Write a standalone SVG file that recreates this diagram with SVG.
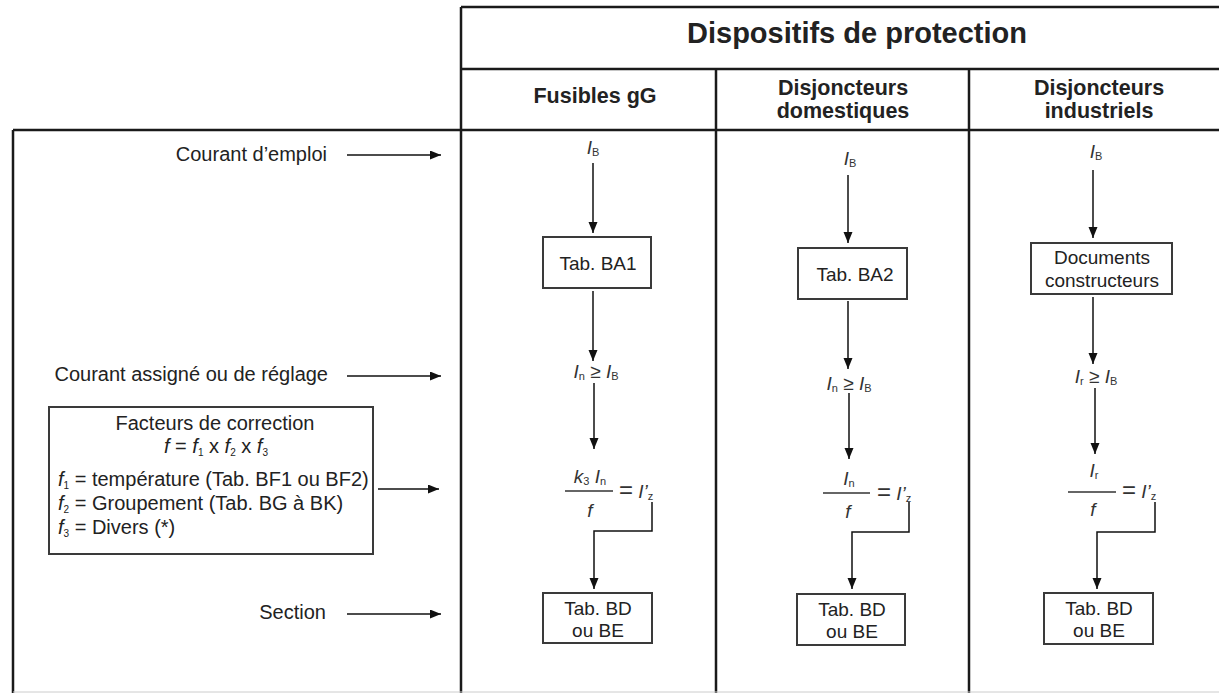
<svg xmlns="http://www.w3.org/2000/svg" width="1219" height="693" viewBox="0 0 1219 693">
<style>
text{font-family:"Liberation Sans",Arial,sans-serif;fill:#222}
.hd{font-size:29px;font-weight:bold;text-anchor:middle}
.ch{font-size:21.5px;font-weight:bold;text-anchor:middle}
.lb{font-size:20px;text-anchor:end}
.fx{font-size:20px}
.bx{font-size:19px;text-anchor:middle}
.m{font-size:19px;fill:#333;text-anchor:middle}
.e{font-size:19px;fill:#333}
.i{font-style:italic}
.s{font-size:11px}
.tbl{stroke:#1a1a1a;stroke-width:2.5;fill:none}
.box{stroke:#3a3a3a;stroke-width:2;fill:#fff}
.c{stroke:#111;stroke-width:1.5;fill:none}
.a{marker-end:url(#ah)}
.bar{stroke:#333;stroke-width:1.5}
</style>
<defs>
<marker id="ah" markerUnits="userSpaceOnUse" markerWidth="12" markerHeight="10" refX="11" refY="4.5" orient="auto">
<path d="M0,0 L11,4.5 L0,9 z" fill="#111"/>
</marker>
</defs>
<rect width="1219" height="693" fill="#fff"/>
<g id="table">
<path class="tbl" d="M461,7 H1225 M461,69 H1225 M13,130 H1225 M461,7 V693 M716,69 V693 M969,69 V693 M13,130 V693"/>
<path d="M13,692 H1219" stroke="#ccc" stroke-width="1"/>
<text class="hd" x="857" y="43">Dispositifs de protection</text>
<text class="ch" x="595" y="103">Fusibles gG</text>
<text class="ch" x="843" y="95">Disjoncteurs</text>
<text class="ch" x="843" y="118">domestiques</text>
<text class="ch" x="1099" y="95">Disjoncteurs</text>
<text class="ch" x="1099" y="118">industriels</text>
</g>
<g id="labels">
<text class="lb" x="327" y="161">Courant d’emploi</text>
<text class="lb" x="328" y="381">Courant assigné ou de réglage</text>
<text class="lb" x="326" y="619">Section</text>
</g>
<g id="facteurs">
<rect class="box" x="49" y="407" width="324" height="147"/>
<text class="fx" x="215" y="430" text-anchor="middle">Facteurs de correction</text>
<text class="fx" x="216" y="453" text-anchor="middle"><tspan class="i">f</tspan> = <tspan class="i">f</tspan><tspan font-size="10" dy="3">1</tspan><tspan dy="-3"> x </tspan><tspan class="i">f</tspan><tspan font-size="10" dy="3">2</tspan><tspan dy="-3"> x </tspan><tspan class="i">f</tspan><tspan font-size="10" dy="3">3</tspan></text>
<text class="fx" x="58" y="486"><tspan class="i">f</tspan><tspan font-size="10" dy="3">1</tspan><tspan dy="-3"> = température (Tab. BF1 ou BF2)</tspan></text>
<text class="fx" x="58" y="510"><tspan class="i">f</tspan><tspan font-size="10" dy="3">2</tspan><tspan dy="-3"> = Groupement (Tab. BG à BK)</tspan></text>
<text class="fx" x="58" y="534"><tspan class="i">f</tspan><tspan font-size="10" dy="3">3</tspan><tspan dy="-3"> = Divers (*)</tspan></text>
</g>
<g id="col1">
<text class="m" x="593" y="154"><tspan class="i">I</tspan><tspan class="s" dy="2">B</tspan></text>
<g id="ba1"><rect class="box" x="543" y="237" width="108" height="51"/><text class="bx" x="598" y="270">Tab. BA1</text></g>
<text class="m" x="596" y="378"><tspan class="i">I</tspan><tspan class="s" dy="2">n</tspan><tspan dy="-2"> ≥ </tspan><tspan class="i">I</tspan><tspan class="s" dy="2">B</tspan></text>
<text class="m" x="590" y="483"><tspan class="i">k</tspan><tspan class="s" dy="2">3</tspan><tspan dy="-2"> </tspan><tspan class="i">I</tspan><tspan class="s" dy="2">n</tspan></text>
<line class="bar" x1="565" y1="491" x2="613" y2="491"/>
<text class="m i" x="590" y="517">f</text>
<text class="e" x="619" y="498"><tspan font-size="24">=</tspan><tspan> </tspan><tspan class="i">I’</tspan><tspan class="s" dy="2">z</tspan></text>
<g id="bd1"><rect class="box" x="543" y="593" width="109" height="50"/><text class="bx" x="598" y="615">Tab. BD</text><text class="bx" x="598" y="637">ou BE</text></g>
</g>
<g id="col2">
<text class="m" x="850" y="165"><tspan class="i">I</tspan><tspan class="s" dy="2">B</tspan></text>
<g id="ba2"><rect class="box" x="798" y="248" width="109" height="51"/><text class="bx" x="855" y="281">Tab. BA2</text></g>
<text class="m" x="849" y="390"><tspan class="i">I</tspan><tspan class="s" dy="2">n</tspan><tspan dy="-2"> ≥ </tspan><tspan class="i">I</tspan><tspan class="s" dy="2">B</tspan></text>
<text class="m" x="849" y="485"><tspan class="i">I</tspan><tspan class="s" dy="2">n</tspan></text>
<line class="bar" x1="823" y1="493" x2="870" y2="493"/>
<text class="m i" x="848" y="518">f</text>
<text class="e" x="877" y="500"><tspan font-size="24">=</tspan><tspan> </tspan><tspan class="i">I’</tspan><tspan class="s" dy="2">z</tspan></text>
<g id="bd2"><rect class="box" x="797" y="594" width="108" height="51"/><text class="bx" x="852" y="616">Tab. BD</text><text class="bx" x="852" y="638">ou BE</text></g>
</g>
<g id="col3">
<text class="m" x="1096" y="158"><tspan class="i">I</tspan><tspan class="s" dy="2">B</tspan></text>
<g id="docs"><rect class="box" x="1031" y="243" width="141" height="51"/><text class="bx" x="1102" y="264">Documents</text><text class="bx" x="1102" y="287">constructeurs</text></g>
<text class="m" x="1096" y="383"><tspan class="i">I</tspan><tspan class="s" dy="2">r</tspan><tspan dy="-2"> ≥ </tspan><tspan class="i">I</tspan><tspan class="s" dy="2">B</tspan></text>
<text class="m" x="1094" y="477"><tspan class="i">I</tspan><tspan class="s" dy="2">r</tspan></text>
<line class="bar" x1="1068" y1="492" x2="1116" y2="492"/>
<text class="m i" x="1093" y="516">f</text>
<text class="e" x="1122" y="498"><tspan font-size="24">=</tspan><tspan> </tspan><tspan class="i">I’</tspan><tspan class="s" dy="2">z</tspan></text>
<g id="bd3"><rect class="box" x="1044" y="593" width="109" height="51"/><text class="bx" x="1099" y="615">Tab. BD</text><text class="bx" x="1099" y="637">ou BE</text></g>
</g>
<g id="connectors">
<line class="c a" x1="347" y1="155" x2="441" y2="155"/>
<line class="c a" x1="347" y1="376" x2="441" y2="376"/>
<line class="c a" x1="378" y1="489" x2="439" y2="489"/>
<line class="c a" x1="347" y1="614" x2="441" y2="614"/>
<line class="c a" x1="593" y1="163" x2="593" y2="233"/>
<line class="c a" x1="593" y1="291" x2="593" y2="361"/>
<line class="c a" x1="594" y1="383" x2="594" y2="449"/>
<path class="c a" d="M652,502 V531 H594 V589"/>
<line class="c a" x1="848" y1="175" x2="848" y2="243"/>
<line class="c a" x1="848" y1="301" x2="848" y2="369"/>
<line class="c a" x1="849" y1="393" x2="849" y2="459"/>
<path class="c a" d="M909,502 V532 H852 V589"/>
<line class="c a" x1="1093" y1="170" x2="1093" y2="238"/>
<line class="c a" x1="1093" y1="297" x2="1093" y2="364"/>
<line class="c a" x1="1095" y1="388" x2="1095" y2="454"/>
<path class="c a" d="M1155,502 V532 H1097 V589"/>
</g>
</svg>
